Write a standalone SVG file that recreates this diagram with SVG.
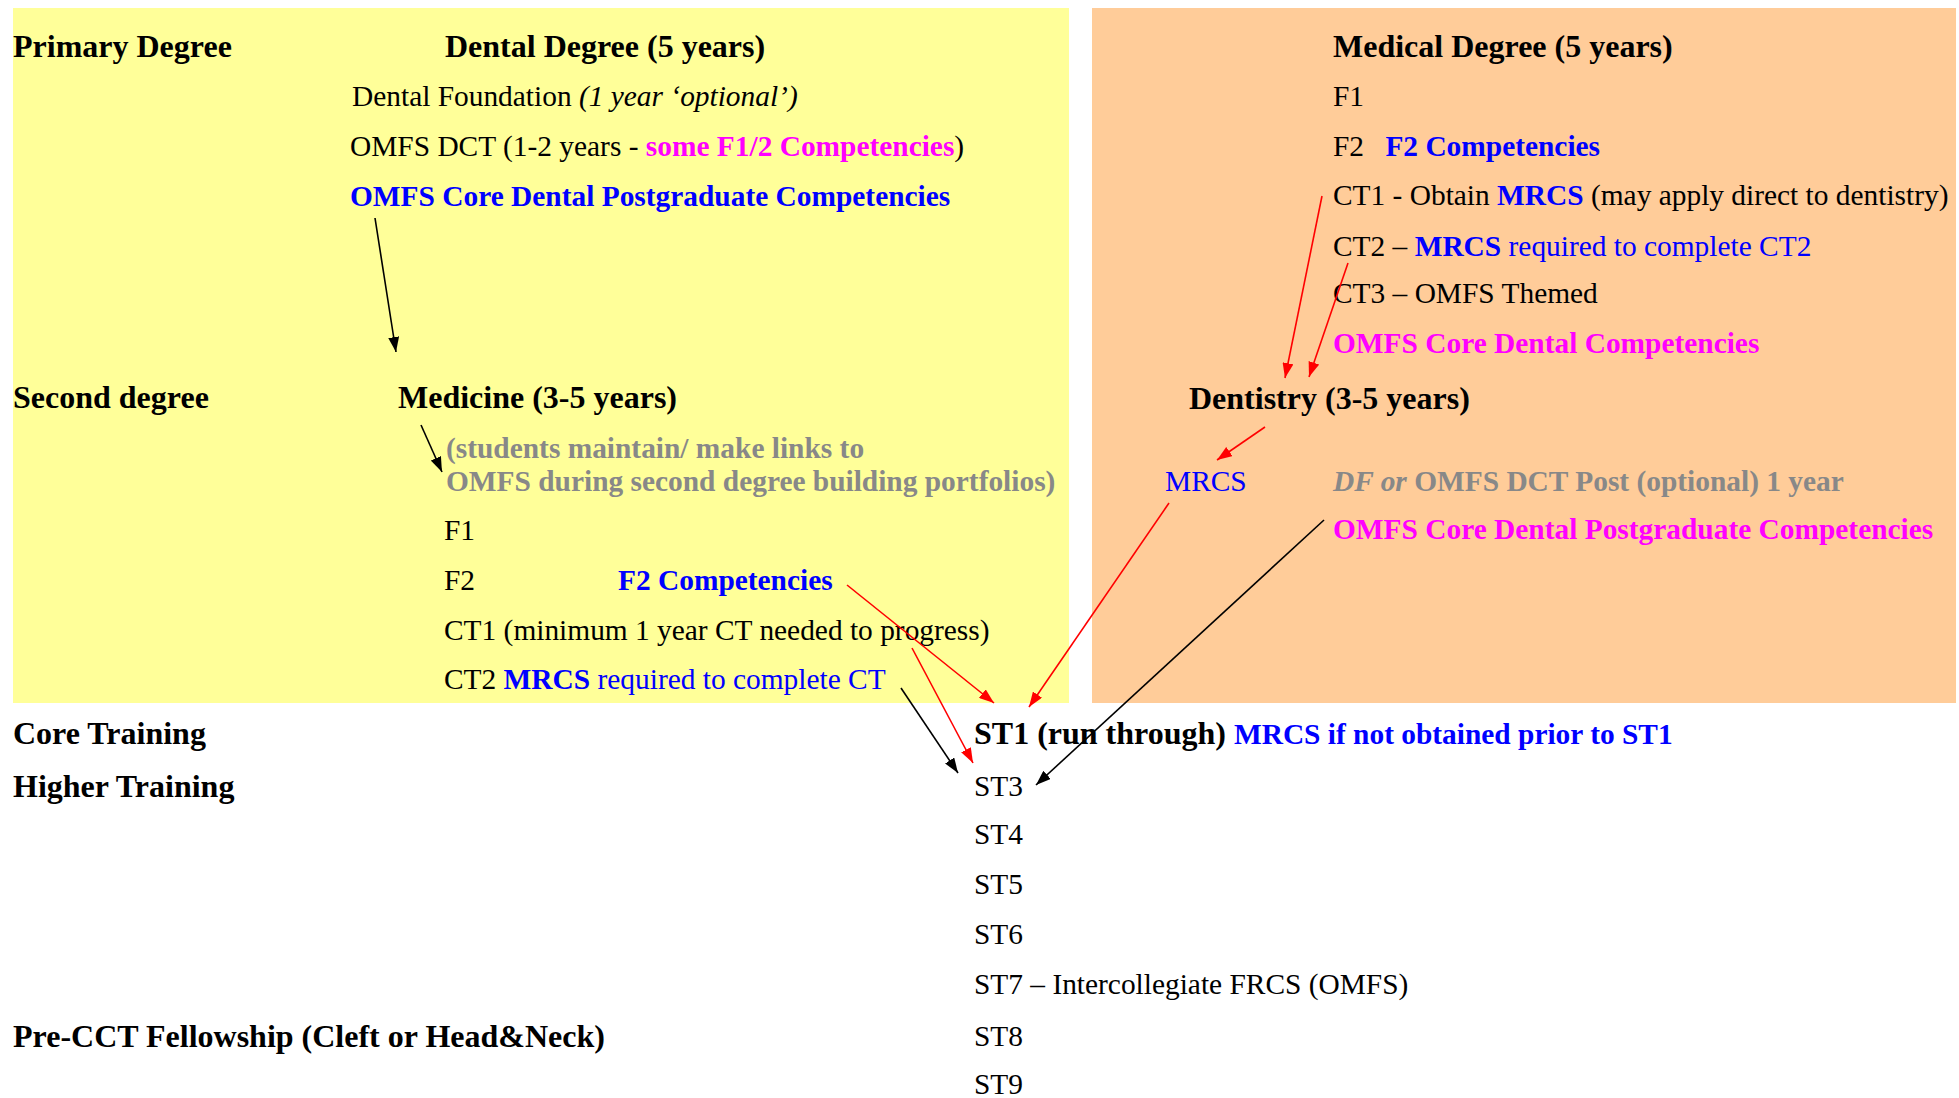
<svg xmlns="http://www.w3.org/2000/svg" width="1959" height="1098" viewBox="0 0 1959 1098">
<style>
text{font-family:"Liberation Serif","Times New Roman",serif;font-size:29.4px;fill:#000}
.h{font-size:32px;font-weight:bold}
.b{font-weight:bold}
.i{font-style:italic}
.blue{fill:#0000FF}
.mag{fill:#FF00FF}
.gray{fill:#888888}
.k{stroke:#000;stroke-width:1.6;fill:none}
.r{stroke:#FF0000;stroke-width:1.6;fill:none}
</style>
<defs>
<marker id="ak" viewBox="0 0 15 11" refX="15" refY="5.5" markerWidth="15" markerHeight="11" markerUnits="userSpaceOnUse" orient="auto"><path d="M0,0 L15,5.5 L0,11 z" fill="#000"/></marker>
<marker id="ar" viewBox="0 0 15 11" refX="15" refY="5.5" markerWidth="15" markerHeight="11" markerUnits="userSpaceOnUse" orient="auto"><path d="M0,0 L15,5.5 L0,11 z" fill="#FF0000"/></marker>
</defs>
<rect width="1959" height="1098" fill="#FFFFFF"/>
<g id="panel-dental"><rect x="13" y="8" width="1056" height="695" fill="#FFFF99"/></g>
<g id="panel-medical"><rect x="1092" y="8" width="864" height="695" fill="#FFCC99"/></g>

<g id="row-labels">
<text class="h" x="13" y="57">Primary Degree</text>
<text class="h" x="13" y="408">Second degree</text>
<text class="h" x="13" y="744">Core Training</text>
<text class="h" x="13" y="797">Higher Training</text>
<text class="h" x="13" y="1047">Pre-CCT Fellowship (Cleft or Head&amp;Neck)</text>
</g>

<g id="dental-degree">
<text class="h" x="445" y="57">Dental Degree (5 years)</text>
<text x="352" y="106">Dental Foundation <tspan class="i">(1 year ‘optional’)</tspan></text>
<text x="350" y="156">OMFS DCT (1-2 years - <tspan class="b mag">some F1/2 Competencies</tspan>)</text>
<text class="b blue" x="350" y="206">OMFS Core Dental Postgraduate Competencies</text>
</g>

<g id="medicine">
<text class="h" x="398" y="408">Medicine (3-5 years)</text>
<text class="b gray" x="446" y="458">(students maintain/ make links to</text>
<text class="b gray" x="446" y="491">OMFS during second degree building portfolios)</text>
<text x="444" y="540">F1</text>
<text x="444" y="590">F2</text>
<text class="b blue" x="618" y="590">F2 Competencies</text>
<text x="444" y="640">CT1 (minimum 1 year CT needed to progress)</text>
<text x="444" y="689">CT2 <tspan class="b blue">MRCS</tspan><tspan class="blue"> required to complete CT</tspan></text>
</g>

<g id="medical-degree">
<text class="h" x="1333" y="57">Medical Degree (5 years)</text>
<text x="1333" y="106">F1</text>
<text x="1333" y="156">F2 <tspan class="b blue" dx="14">F2 Competencies</tspan></text>
<text x="1333" y="205">CT1 - Obtain <tspan class="b blue">MRCS</tspan> (may apply direct to dentistry)</text>
<text x="1333" y="256">CT2 – <tspan class="b blue">MRCS</tspan><tspan class="blue"> required to complete CT2</tspan></text>
<text x="1333" y="303">CT3 – OMFS Themed</text>
<text class="b mag" x="1333" y="353">OMFS Core Dental Competencies</text>
</g>

<g id="dentistry">
<text class="h" x="1189" y="409">Dentistry (3-5 years)</text>
<text class="blue" x="1165" y="491">MRCS</text>
<text class="gray" x="1333" y="491"><tspan class="b i">DF or </tspan><tspan class="b">OMFS DCT Post (optional) 1 year</tspan></text>
<text class="b mag" x="1333" y="539">OMFS Core Dental Postgraduate Competencies</text>
</g>

<g id="specialty-training">
<text x="974" y="744"><tspan class="h">ST1 (run through) </tspan><tspan class="b blue">MRCS if not obtained prior to ST1</tspan></text>
<text x="974" y="796">ST3</text>
<text x="974" y="844">ST4</text>
<text x="974" y="894">ST5</text>
<text x="974" y="944">ST6</text>
<text x="974" y="994">ST7 – Intercollegiate FRCS (OMFS)</text>
<text x="974" y="1046">ST8</text>
<text x="974" y="1094">ST9</text>
</g>

<g id="connectors">
<line class="k" x1="375" y1="218" x2="396" y2="352" marker-end="url(#ak)"/>
<line class="k" x1="421" y1="425" x2="442" y2="472" marker-end="url(#ak)"/>
<line class="k" x1="901" y1="688" x2="958" y2="773" marker-end="url(#ak)"/>
<line class="k" x1="1324" y1="520" x2="1036" y2="785" marker-end="url(#ak)"/>
<line class="r" x1="1322" y1="196" x2="1285" y2="378" marker-end="url(#ar)"/>
<line class="r" x1="1348" y1="263" x2="1309" y2="377" marker-end="url(#ar)"/>
<line class="r" x1="1265" y1="427" x2="1217" y2="460" marker-end="url(#ar)"/>
<line class="r" x1="1169" y1="503" x2="1029" y2="707" marker-end="url(#ar)"/>
<line class="r" x1="847" y1="585" x2="994" y2="703" marker-end="url(#ar)"/>
<line class="r" x1="912" y1="648" x2="973" y2="763" marker-end="url(#ar)"/>
</g>
</svg>
